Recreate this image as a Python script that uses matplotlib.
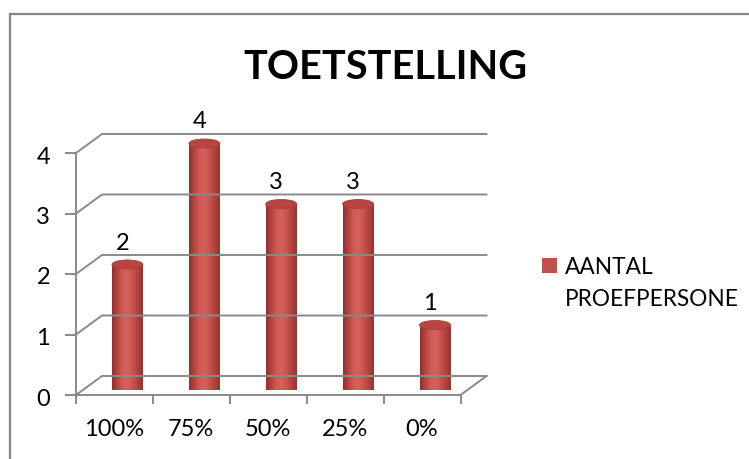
import numpy as np
import matplotlib
matplotlib.use('Agg')
import matplotlib.pyplot as plt
from matplotlib.colors import LinearSegmentedColormap
from matplotlib.patches import Ellipse, Polygon, Rectangle
from matplotlib.lines import Line2D

# data
title = 'TOETSTELLING'
categories = ['100%', '75%', '50%', '25%', '0%']
counts = [2, 4, 3, 3, 1]
series_name = ['AANTAL', 'PROEFPERSONE']
y_ticks = [0, 1, 2, 3, 4]

plt.rcParams['font.family'] = ['Lato', 'DejaVu Sans']

W, H, DPI = 749, 459, 100
fig = plt.figure(figsize=(W / DPI, H / DPI), dpi=DPI)

# middle depth plane of the pseudo 3d box (pixels from top-left)
px_left, px_right = 89, 473.5
px_y0, px_ytop = 385.5, 143.5
ax = fig.add_axes([px_left / W, 1 - px_y0 / H,
                   (px_right - px_left) / W, (px_y0 - px_ytop) / H])
ax.axis('off')

sx = (px_right - px_left) / len(categories)   # px per category
sy = (px_y0 - px_ytop) / max(y_ticks)         # px per unit
dx, dy = 13 / sx, 9.5 / sy                    # half depth in data units
x0, x1 = -0.5, len(categories) - 0.5
grid_c = '#8a8a8a'
fs = 17


def proj(x, v, d):
    # d = -1 front wall, 0 middle, 1 back wall
    return x + d * dx, v + d * dy


# back wall grid + left wall diagonals
for v in y_ticks:
    pts = [proj(x0, v, -1), proj(x0, v, 1), proj(x1, v, 1)]
    ax.plot(*zip(*pts), color=grid_c, lw=1.4, clip_on=False)

# floor front edge and right edge
pts = [proj(x0, 0, -1), proj(x1, 0, -1), proj(x1, 0, 1)]
ax.plot(*zip(*pts), color=grid_c, lw=1.4, clip_on=False)
# front value axis
pts = [proj(x0, 0, -1), proj(x0, max(y_ticks), -1)]
ax.plot(*zip(*pts), color=grid_c, lw=1.4, clip_on=False)

# ticks
for v in y_ticks:
    fx, fy = proj(x0, v, -1)
    ax.plot([fx - 10 / sx, fx], [fy, fy], color=grid_c, lw=1.4, clip_on=False)
    ax.annotate(str(v), xy=(fx, fy), xytext=(-26, -10.5), textcoords='offset pixels',
                ha='right', va='baseline', fontsize=fs, annotation_clip=False)
for b in np.arange(x0, x1 + 0.01, 1.0):
    fx, fy = proj(b, 0, -1)
    ax.plot([fx, fx], [fy, fy - 8 / sy], color=grid_c, lw=1.4, clip_on=False)
for i, cat in enumerate(categories):
    fx, fy = proj(i, 0, -1)
    ax.annotate(cat, xy=(fx, fy), xytext=(0, -41.5), textcoords='offset pixels',
                ha='center', va='baseline', fontsize=fs, annotation_clip=False)

# cylinders
cmap = LinearSegmentedColormap.from_list(
    'cyl', ['#8c322f', '#b4433f', '#cf5955', '#d4625e', '#c9524e', '#b1423e', '#923532'])
grad = np.linspace(0, 1, 128)[None, :]
bw = 31 / sx
eh = 9 / sy
t = np.linspace(np.pi, 2 * np.pi, 50)
for i, v in enumerate(counts):
    left, right = i - bw / 2, i + bw / 2
    arc = np.column_stack([i + bw / 2 * np.cos(t), eh / 2 * np.sin(t)])
    outline = np.vstack([[left, v], arc, [right, v]])
    body = Polygon(outline, closed=True, facecolor='none', edgecolor='none')
    ax.add_patch(body)
    im = ax.imshow(grad, cmap=cmap, extent=[left, right, -eh / 2, v],
                   aspect='auto', interpolation='bicubic', clip_on=False)
    im.set_clip_path(body)
    ax.add_patch(Ellipse((i, v), bw, eh, facecolor='#b94541',
                         edgecolor='#a83d3a', lw=0.6, clip_on=False))
    ax.annotate(str(v), xy=(i, v), xytext=(-5, 15), textcoords='offset pixels',
                ha='center', va='baseline', fontsize=fs, annotation_clip=False)

ax.set_xlim(x0, x1)
ax.set_ylim(0, max(y_ticks))

# title
fig.text(385 / W, 1 - 79.3 / H, title, ha='center', va='baseline',
         fontsize=28.6, fontweight='bold')

# legend
fig.add_artist(Rectangle((542 / W, 1 - 273 / H), 14.7 / W, 15 / H,
                         transform=fig.transFigure, facecolor='#c0504d', edgecolor='none'))
fig.text(565 / W, 1 - 274 / H, series_name[0], ha='left', va='baseline', fontsize=16.3)
fig.text(565 / W, 1 - 305.7 / H, series_name[1], ha='left', va='baseline', fontsize=16.3)

# chart border (partly outside the picture)
fig.add_artist(Line2D([9.5 / W, 9.5 / W], [0, 1 - 14 / H], transform=fig.transFigure,
                      color='#868686', lw=1.6))
fig.add_artist(Line2D([9.5 / W, 1], [1 - 14 / H, 1 - 14 / H], transform=fig.transFigure,
                      color='#868686', lw=1.6))

fig.savefig('out.png', dpi=DPI)
